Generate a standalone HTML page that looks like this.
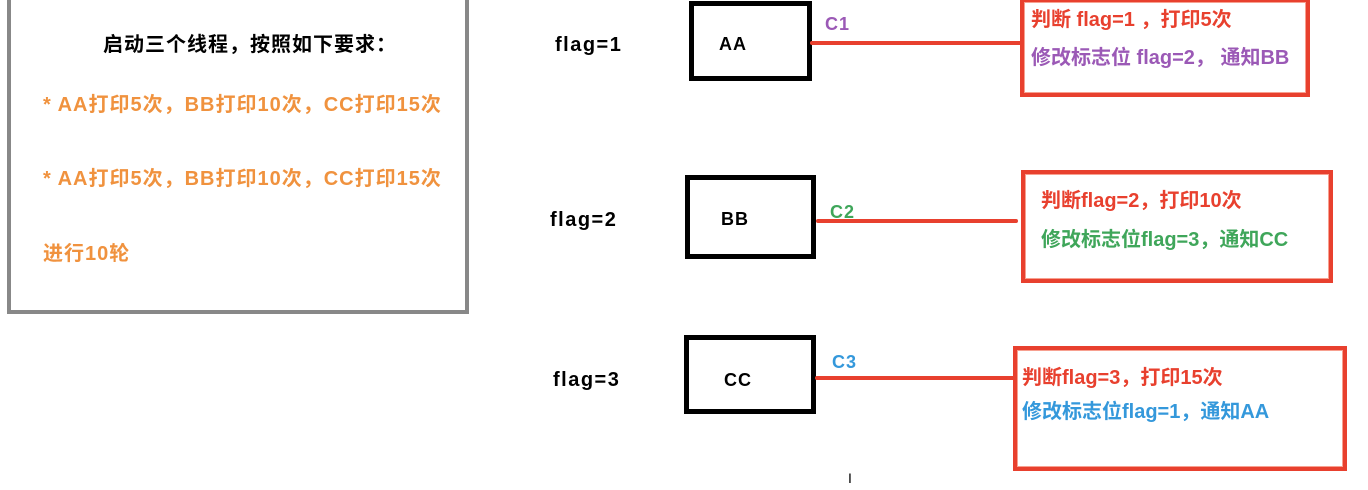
<!DOCTYPE html>
<html><head><meta charset="utf-8"><style>
body{margin:0;width:1368px;height:487px;background:#fff;position:relative;overflow:hidden;font-family:"Liberation Sans","Noto Sans CJK SC",sans-serif;font-weight:bold}
.a{position:absolute;white-space:nowrap;line-height:24px}
.bx{position:absolute;border:5px solid #000;box-sizing:border-box;background:#fff}
.rb{position:absolute;border:4px solid #e8402e;box-sizing:border-box;box-shadow:inset 0 0 0 1px #f7a090}
.ln{position:absolute;height:4px;background:#e8402e;border-radius:2px}
.t{font-size:20px}
.l{font-size:20px;letter-spacing:1px}
.f{font-size:20px;letter-spacing:1.5px}
.n{font-size:18px;letter-spacing:1px}
</style></head><body>
<div style="position:absolute;left:7px;top:-10px;width:462px;height:324px;border:4px solid #888;border-top:none;box-sizing:border-box"></div>
<div class="a l" style="left:103px;top:33px;color:#000">启动三个线程，按照如下要求：</div>
<div class="a l" style="left:43px;top:93px;color:#f0923e">* AA打印5次，BB打印10次，CC打印15次</div>
<div class="a l" style="left:43px;top:167px;color:#f0923e">* AA打印5次，BB打印10次，CC打印15次</div>
<div class="a l" style="left:43px;top:242px;color:#f0923e">进行10轮</div>

<div class="a f" style="left:555px;top:33px">flag=1</div>
<div class="a f" style="left:550px;top:208px">flag=2</div>
<div class="a f" style="left:553px;top:368px">flag=3</div>

<div class="bx" style="left:689px;top:1px;width:123px;height:80px"></div>
<div class="a n" style="left:719px;top:32px">AA</div>
<div class="bx" style="left:685px;top:175px;width:131px;height:84px"></div>
<div class="a n" style="left:721px;top:207px">BB</div>
<div class="bx" style="left:684px;top:335px;width:132px;height:79px"></div>
<div class="a n" style="left:724px;top:368px">CC</div>

<div class="ln" style="left:810px;top:41px;width:212px"></div>
<div class="ln" style="left:816px;top:219px;width:202px"></div>
<div class="ln" style="left:815px;top:376px;width:200px"></div>

<div class="a n" style="left:825px;top:12px;color:#9b59b6">C1</div>
<div class="a n" style="left:830px;top:200px;color:#3fa65a">C2</div>
<div class="a n" style="left:832px;top:350px;color:#3498db">C3</div>

<div class="rb" style="left:1020px;top:-2px;width:290px;height:99px"></div>
<div class="a t" style="left:1031px;top:8px;color:#e8402e">判断 flag=1 ，打印5次</div>
<div class="a t" style="left:1031px;top:46px;color:#9b59b6">修改标志位 flag=2， 通知BB</div>

<div class="rb" style="left:1021px;top:170px;width:312px;height:113px"></div>
<div class="a t" style="left:1041px;top:189px;color:#e8402e">判断flag=2，打印10次</div>
<div class="a t" style="left:1041px;top:228px;color:#3fa65a">修改标志位flag=3，通知CC</div>

<div class="rb" style="left:1013px;top:346px;width:334px;height:125px"></div>
<div class="a t" style="left:1022px;top:366px;color:#e8402e">判断flag=3，打印15次</div>
<div class="a t" style="left:1022px;top:400px;color:#3498db">修改标志位flag=1，通知AA</div>

<div class="a" style="left:848px;top:466px;font-size:14px;font-weight:normal">I</div>
</body></html>
